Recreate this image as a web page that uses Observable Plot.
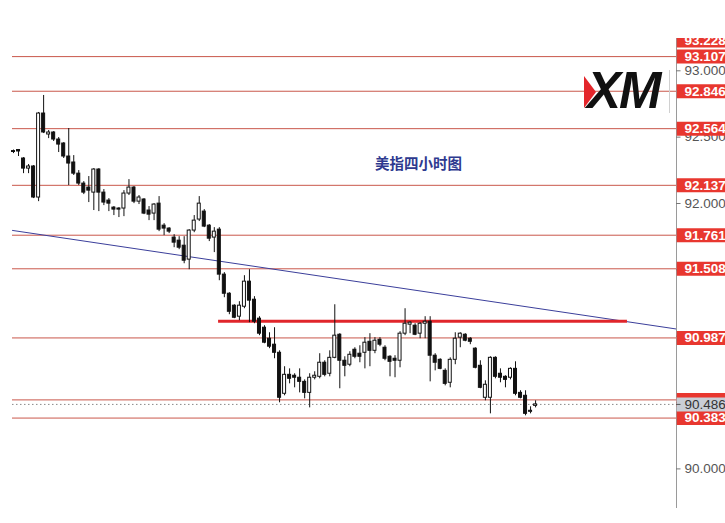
<!DOCTYPE html>
<html><head><meta charset="utf-8">
<script src="https://cdn.jsdelivr.net/npm/d3@7"></script>
<script src="https://cdn.jsdelivr.net/npm/@observablehq/plot@0.6"></script>
<style>
html,body{margin:0;padding:0;background:#fff}
body{width:725px;height:523px;overflow:hidden;position:relative;font-family:"Liberation Sans",Arial,sans-serif}
#chart{position:absolute;left:0;top:38px;width:725px;height:485px;overflow:hidden}
#chart svg{overflow:hidden;display:block}
#title{position:absolute;left:375px;top:156px;font-family:"Noto Sans CJK SC";font-weight:bold;font-size:14.5px;color:#2e3a8f;line-height:1;white-space:nowrap}
#logo-tri{position:absolute;left:584px;top:76px;width:0;height:0;border-left:12px solid #e3262b;border-top:16px solid transparent;border-bottom:16px solid transparent}
#logo-xm{position:absolute;left:587px;top:65px;font-family:"Liberation Sans";font-weight:bold;font-style:italic;font-size:51px;line-height:1;color:#111;letter-spacing:-2px}
#logo-bar{position:absolute;left:669px;top:70px;width:1px;height:43px;background:#d0d0d0}
</style></head><body>
<div id="chart"></div>
<div id="title">美指四小时图</div>
<div id="logo-xm">XM</div>
<div id="logo-tri"></div>
<div id="logo-bar"></div>
<script>
// ---- data (4-hour candles) ----
const open = [92.395,92.403,92.339,92.263,92.279,92.045,92.678,92.520,92.535,92.482,
92.452,92.354,92.309,92.225,92.150,92.120,92.082,92.256,92.082,92.022,
91.969,91.962,91.962,92.075,92.120,92.014,92.030,91.947,91.924,91.999,
91.833,91.811,91.743,91.720,91.682,91.577,91.796,91.879,91.939,91.833,
91.743,91.803,91.464,91.320,91.230,91.147,91.222,91.411,91.275,91.132,
91.064,90.981,90.936,90.875,90.566,90.709,90.702,90.687,90.656,90.573,
90.687,90.694,90.800,90.717,90.837,91.011,90.815,90.785,90.898,90.868,
90.875,90.958,90.890,90.973,90.913,90.845,90.830,90.815,91.019,91.087,
91.079,91.019,91.094,91.109,90.853,90.822,90.739,90.649,90.822,90.989,
91.011,90.981,90.906,90.777,90.536,90.536,90.837,90.717,90.694,90.687,
90.754,90.573,90.551,90.430,90.475];
const high = [92.403,92.407,92.346,92.294,92.286,92.686,92.814,92.550,92.542,92.497,
92.459,92.565,92.361,92.248,92.165,92.203,92.263,92.263,92.105,92.037,
91.977,91.969,92.097,92.180,92.128,92.060,92.037,91.977,91.999,92.052,
91.848,91.818,91.765,91.750,91.750,91.803,91.909,92.052,91.954,91.841,
91.818,91.818,91.479,91.328,91.237,91.260,91.456,91.501,91.298,91.147,
91.079,91.026,91.064,90.890,90.770,90.754,90.717,90.754,90.671,90.717,
90.732,90.868,90.815,90.890,91.237,91.019,90.845,90.883,90.913,90.928,
90.989,91.019,90.989,90.989,90.928,90.853,90.853,91.034,91.207,91.109,
91.094,91.102,91.147,91.147,90.868,90.830,90.754,90.837,91.026,91.026,
91.019,90.989,90.913,90.815,90.664,90.845,90.845,90.754,90.702,90.762,
90.807,90.589,90.589,90.468,90.513];
const low = [92.376,92.354,92.225,92.225,92.037,92.014,92.527,92.489,92.467,92.384,
92.339,92.135,92.211,92.135,92.067,92.007,91.947,91.939,91.984,91.939,
91.909,91.894,91.901,92.060,91.999,91.992,91.916,91.871,91.871,91.788,
91.758,91.773,91.667,91.652,91.546,91.501,91.780,91.864,91.818,91.713,
91.630,91.418,91.290,91.162,91.132,91.117,91.207,91.102,91.094,91.004,
90.943,90.906,90.830,90.498,90.551,90.641,90.611,90.573,90.528,90.460,
90.671,90.679,90.694,90.694,90.830,90.604,90.694,90.770,90.830,90.800,
90.754,90.770,90.868,90.921,90.815,90.694,90.687,90.762,91.004,91.019,
91.004,90.981,90.981,90.656,90.739,90.747,90.626,90.611,90.785,90.913,
90.958,90.936,90.754,90.604,90.513,90.415,90.679,90.649,90.611,90.671,
90.551,90.528,90.400,90.415,90.460];
const close = [92.388,92.392,92.263,92.279,92.045,92.678,92.535,92.535,92.482,92.444,
92.354,92.301,92.225,92.150,92.082,92.097,92.256,92.082,92.007,91.999,
91.954,91.954,92.075,92.120,92.014,92.045,91.924,91.916,91.992,91.803,
91.811,91.788,91.705,91.667,91.569,91.796,91.871,91.999,91.826,91.735,
91.788,91.464,91.320,91.184,91.139,91.230,91.411,91.268,91.109,91.019,
90.951,90.921,90.875,90.536,90.709,90.679,90.687,90.656,90.573,90.687,
90.702,90.800,90.709,90.837,91.004,90.815,90.777,90.860,90.845,90.845,
90.951,90.890,90.966,90.936,90.830,90.807,90.815,91.019,91.094,91.102,
91.011,91.094,91.109,90.853,90.800,90.754,90.641,90.822,90.981,91.019,
90.966,90.958,90.762,90.611,90.634,90.837,90.694,90.687,90.671,90.754,
90.566,90.536,90.415,90.438,90.486];

const levels = [93.107, 92.846, 92.564, 92.137, 91.761, 91.508, 90.987, 90.520, 90.383];
const edgeLevels = [93.228];            // label pinned at the top edge
const axisTicks = [93.0, 92.5, 92.0, 91.5, 91.0, 90.5, 90.0];
const currentPrice = 90.486;
const resistance = {price: 91.113, from: 40.85, to: 122.3};
const trendPrices = [91.797, 91.054];   // trend line at left edge / right axis

// ---- layout ----
const xMin = -0.2, xMax = 132.07;
const candles = open.map((o, i) => ({i, open: o, high: high[i], low: low[i], close: close[i]}));
const upC = candles.filter(d => d.close >= d.open);
const downC = candles.filter(d => d.close < d.open);
const trend = [{i: xMin, p: trendPrices[0]}, {i: xMax, p: trendPrices[1]}];
const red = "#e8372f";
const lineRed = "#c0392b";
const boxW = 12;   // label box width in index units (extends into the right margin)
const allLabels = levels.concat(edgeLevels);
// texts that lie fully under a later label box are not drawn (as in the picture)
const covered = (v, over) => over.some(u => u !== v && Math.abs(u - v) < 0.055);
const tickText = axisTicks.filter(v => !covered(v, allLabels.concat([currentPrice])));
const levelText = allLabels.filter(v => !covered(v, [currentPrice]));
const fs = 13.5;

const chart = Plot.plot({
  width: 725, height: 485,
  marginLeft: 12, marginRight: 49, marginTop: 0, marginBottom: 15,
  style: {fontFamily: "Liberation Sans, Arial, sans-serif", background: "#fff", overflow: "hidden"},
  x: {domain: [xMin, xMax], axis: null},
  y: {domain: [89.7016, 93.2434], axis: null},
  marks: [
    Plot.ruleY(levels, {stroke: lineRed, strokeWidth: 1, strokeOpacity: 0.85}),
    Plot.ruleY([currentPrice], {stroke: "#8a8a8a", strokeDasharray: "1.5,2.5"}),
    Plot.line(trend, {x: "i", y: "p", stroke: "#3b3f9b", strokeWidth: 1}),
    Plot.ruleY([resistance.price], {x1: resistance.from, x2: resistance.to, stroke: "#e0262b", strokeWidth: 3}),
    Plot.ruleX(candles, {x: "i", y1: "low", y2: "high", stroke: "#111", strokeWidth: 1}),
    Plot.rect(downC, {x1: d => d.i - 0.3, x2: d => d.i + 0.3, y1: "open", y2: "close", fill: "#111", stroke: "#111", strokeWidth: 1}),
    Plot.rect(upC, {x1: d => d.i - 0.3, x2: d => d.i + 0.3, y1: "open", y2: "close", fill: "#fff", stroke: "#111", strokeWidth: 1}),
    // right price axis
    Plot.ruleX([xMax], {stroke: "#9a9a9a"}),
    Plot.ruleY(axisTicks, {x1: xMax, x2: xMax + 0.9, stroke: "#777"}),
    Plot.text(tickText, {x: xMax, y: d => d, text: d => d.toFixed(3), textAnchor: "start", dx: 8, fill: "#555", fontSize: fs}),
    // red level labels
    Plot.ruleY(allLabels, {x1: xMax + 0.15, x2: xMax + boxW, stroke: red, strokeWidth: 14}),
    Plot.text(levelText, {x: xMax, y: d => d, text: d => d.toFixed(3), textAnchor: "start", dx: 8, fill: "#fff", fontWeight: "bold", fontSize: fs}),
    // current price label
    Plot.ruleY([currentPrice], {x1: xMax + 0.15, x2: xMax + boxW, stroke: "#c9ced6", strokeWidth: 14}),
    Plot.ruleY([currentPrice], {x1: xMax, x2: xMax + 0.9, stroke: "#555"}),
    Plot.text([currentPrice], {x: xMax, y: d => d, text: d => d.toFixed(3), textAnchor: "start", dx: 8, fill: "#333", fontSize: fs})
  ]
});
document.getElementById("chart").appendChild(chart);
</script>
</body></html>
